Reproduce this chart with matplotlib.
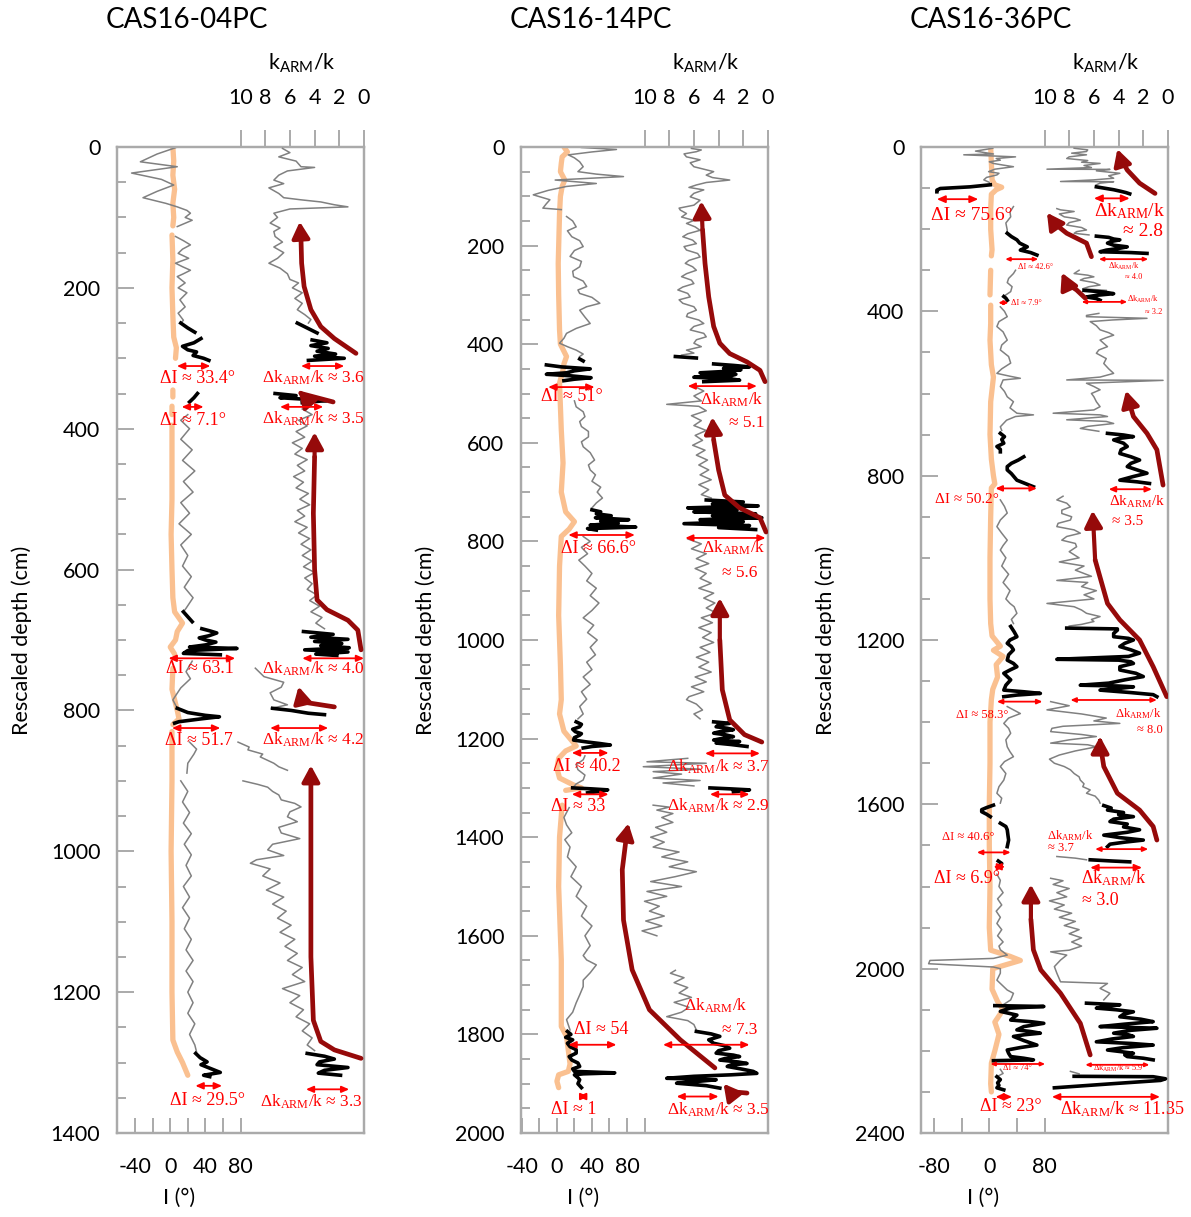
import numpy as np
import matplotlib
matplotlib.use('Agg')
import matplotlib.pyplot as plt
from matplotlib.ticker import MultipleLocator, FixedLocator

plt.rcParams['font.family'] = ['Lato', 'DejaVu Sans']
plt.rcParams['mathtext.fontset'] = 'custom'
plt.rcParams['mathtext.rm'] = 'Liberation Serif'
plt.rcParams['mathtext.sf'] = 'Lato'
plt.rcParams['mathtext.it'] = 'Liberation Serif:italic'

# ---------------------------------------------------------------- data
TITLES = ['CAS16-04PC', 'CAS16-14PC', 'CAS16-36PC']
DEPTH_MAX = [1400, 2000, 2400]
K_TICKS = [10, 8, 6, 4, 2, 0]
I_TICKS = [[-40, -20, 0, 20, 40, 60, 80],
           [-40, -20, 0, 20, 40, 60, 80, 100],
           [-80, -40, 0, 40, 80]]
I_TICKLABELS = [['-40', '', '0', '', '40', '', '80'],
                ['-40', '', '0', '', '40', '', '80', ''],
                ['-80', '', '0', '', '80']]

# ---- panel 1 : (depth cm, inclination deg)
P1_I_GREY = [(1,6),(10,-15),(21,-34),(28,8),(37,-44),(46,-10),(54,4),(63,-15),(72,-31),(80,-5),(85,8),(90,19),(94,23),(100,17),(104,25),(113,8),
             None,(127,6),(133,15),(139,23),(145,14),(151,9),(158,21),(165,6),(170,14),(175,23),(180,15),(184,8),(193,17),(200,9),(207,19),(217,11),(227,17),(236,9),(246,15),(250,12),
             None,(380,20),(388,12),(400,22),(415,12),(430,25),(445,14),(460,28),(475,15),(490,26),(505,12),(520,22),(535,10),(550,24),(565,12),(580,20),(595,14),(610,24),(625,16),(640,26),(655,18),(660,15),
             None,(730,25),(745,18),(755,23),(768,12),(785,3),(797,8),
             None,(845,22),(855,30),(862,27),(875,20),(889,19),
             None,(900,12),(915,20),(930,14),(945,22),(960,15),(975,24),(990,16),(1005,24),(1020,18),(1035,24),(1050,15),(1065,22),(1080,14),(1095,22),(1110,16),(1125,24),(1140,18),(1155,26),(1170,18),(1185,26),(1200,20),(1215,26),(1230,20),(1245,28),(1260,22),(1275,28),(1285,30)]
P1_I_BLACK = [(250,12),(257,20),(263,28),None,(272,35),(278,27),(283,14),(288,20),(291,30),(296,26),(300,38),(303,44),
              None,(350,31),(356,27),(362,22),
              None,(660,15),(667,20),(674,25),None,(684,36),(687,45),(690,53),(694,44),(697,33),(700,40),(703,52),(707,40),(710,22),(712,76),(715,20),(719,15),(721,57),
              None,(797,8),(803,20),(807,40),(809,56),(812,35),(816,10),(818,5),
              None,(1287,29),(1293,34),(1299,42),(1303,35),(1308,45),(1314,57),(1318,38),(1320,45)]
P1_I_PEACH = [(0,3),(20,4),(40,3),(60,5),(80,3),(100,4),(112,3),None,(125,2),(160,3),(200,2),(240,3),(270,4),(285,7),(300,6),None,
              (345,3),(355,3),None,(368,2),(380,2),None,(395,2),(450,2),(500,2),(550,1),(600,2),(640,3),(660,5),(676,14),(688,8),(700,6),(710,0),(720,5),None,
              (740,3),(770,2),(800,8),(812,10),(820,3),None,(830,2),(900,2),(1000,1),(1100,2),(1200,2),(1268,3),(1285,8),(1300,14),(1318,20)]
P1_K_GREY = [(2,6.6),(8,6.0),(14,6.9),(20,5.5),(28,5.1),(29,4.0),(34,6.2),(40,6.9),(47,7.3),(52,6.5),(58,7.7),(66,6.9),(72,6.5),(75,5.1),(78,3.5),(82,2.4),(85,1.3),(88,6.0),(94,7.3),(100,7.0),(108,7.6),(115,6.8),(120,7.3),(127,7.2),(135,6.6),(142,7.3),(150,6.5),(158,7.0),(165,7.7),(172,6.8),(180,6.2),(188,6.0),(193,5.3),(200,5.8),(207,5.0),(215,5.6),(222,5.0),(231,5.4),(238,4.8),(245,4.3),(250,4.5),
             None,(372,5.0),(380,4.2),(388,5.3),(396,4.6),(404,5.5),(412,4.8),(420,5.8),(428,5.0),(436,5.6),(444,4.6),(452,5.4),(460,4.8),(468,5.7),(476,4.9),(484,5.5),(492,4.5),(500,5.2),(508,4.4),(516,5.4),(524,4.8),(532,5.6),(540,4.6),(548,5.3),(556,4.4),(564,5.1),(572,4.3),(580,5.0),(588,4.2),(596,4.9),(604,4.0),(612,4.8),(620,4.2),(628,4.6),(636,3.8),(644,4.4),(652,3.6),(660,4.3),(668,3.4),(676,3.9),(684,3.2),
             None,(740,8.8),(752,8.1),(760,6.5),(767,6.7),(775,7.6),(785,7.3),(792,6.2),(797,7.5),
             None,(845,10.2),(852,9.3),(856,9.4),(862,8.2),(866,8.4),(875,7.3),(880,6.9),(885,6.2),None,(900,9.8),(905,8.6),(909,7.8),(915,7.4),(920,6.9),(927,6.7),(932,5.6),(937,5.1),(944,6.0),(951,6.2),(958,5.4),(966,6.9),(974,6.7),(982,5.2),(990,7.4),(998,7.8),(1006,6.5),(1012,8.7),(1017,9.2),(1025,7.6),(1035,8.2),(1045,6.8),(1055,7.9),(1065,6.5),(1075,7.4),(1085,6.3),(1095,7.0),(1105,5.9),(1115,6.8),(1125,5.6),(1135,6.4),(1145,5.4),(1155,6.2),(1165,5.0),(1175,5.8),(1185,4.8),(1195,6.6),(1205,5.2),(1215,6.0),(1225,4.9),(1235,5.5),(1245,4.4),(1255,5.0),(1265,4.2),(1275,4.6),(1283,4.0)]
P1_K_BLACK = [(250,5.4),(257,4.6),(264,3.8),None,(274,4.2),(278,3.0),(282,4.3),(286,2.9),(290,3.8),(294,2.3),(297,4.0),(300,1.6),(303,4.5),
              None,(350,7.2),(353,5.5),(356,6.8),(360,3.0),(363,5.0),
              None,(688,4.9),(692,2.5),(696,4.3),(699,1.3),(702,4.0),(705,1.8),(708,3.5),(711,1.2),(714,4.8),(717,1.3),(720,3.9),(722,2.2),
              None,(797,7.4),(800,5.9),(804,4.5),(806,3.2),
              None,(1287,4.6),(1291,3.2),(1295,2.4),(1299,3.6),(1303,3.8),(1307,1.3),(1311,3.2),(1315,3.7),(1318,1.9)]
P1_TRENDS = [[(293,0.65),(272,2.4),(255,3.5),(231,4.3),(198,4.85),(165,5.05),(132,5.1),(106,5.2)],
             [(362,2.5),(350,5.1),(346,5.3)],
             [(714,0.24),(686,0.5),(672,1.3),(657,3.0),(643,3.8),(600,4.0),(520,4.1),(440,4.0),(405,4.0)],
             [(795,2.4),(789,4.6),(781,5.1),(766,5.3)],
             [(1294,0.24),(1282,2.4),(1270,3.5),(1240,4.1),(1150,4.3),(1000,4.3),(900,4.3),(878,4.3)]]
# (depth, left, right, text_x, text_depth, text, fontsize)
P1_DI = [(311,7.6,45.7,31,328,'ΔI ≈ 33.4°',13),(369,13,38,26,388,'ΔI ≈ 7.1°',13),(726,-2,74,34,741,'ΔI ≈ 63.1',13),
         (825,2,57,33,842,'ΔI ≈ 51.7',13),(1333,28.6,59,43,1354,'ΔI ≈ 29.5°',13)]
P1_DK = [(311,5.1,1.6,4.1,328,'Δk$_{\\mathrm{ARM}}$/k ≈ 3.6',12.5),(369,6.8,3.3,4.1,386,'Δk$_{\\mathrm{ARM}}$/k ≈ 3.5',12.5),
         (726,5.0,0.0,4.1,741,'Δk$_{\\mathrm{ARM}}$/k ≈ 4.0',12.5),(825,7.6,2.9,4.1,842,'Δk$_{\\mathrm{ARM}}$/k ≈ 4.2',12.5),
         (1338,4.7,1.2,4.3,1356,'Δk$_{\\mathrm{ARM}}$/k ≈ 3.3',12.5)]

# ---- panel 2
P2_I_GREY = [(1,28),(5,68),(10,40),(16,13),(22,20),(30,26),(40,30),(50,24),(55,45),(60,76),(64,30),(67,-2),(74,45),(80,11),(88,-10),(97,-27),(107,-8),(115,-12),(124,-16),(127,5),
             None,(141,11),(150,18),(162,22),(170,12),(182,17),(190,26),(202,30),(210,20),(222,15),(232,28),(243,26),(252,18),(263,19),(272,30),(283,34),(290,24),(297,26),(305,40),(317,49),(324,34),(331,26),(345,32),(358,38),(368,22),(378,11),(388,8),(398,3),(405,12),(412,22),(420,30),(425,26),
             None,(515,20),(527,22),(537,30),(547,32),(557,26),(567,28),(577,36),(588,36),(598,28),(608,30),(620,38),(635,43),(645,36),(655,38),(665,44),(678,40),(690,50),(700,46),(712,52),(722,45),(732,40),
             None,(790,30),(800,38),(812,28),(825,35),(838,25),(850,32),(865,40),(880,34),(895,45),(910,38),(925,48),(940,40),(955,30),(970,42),(985,35),(1000,46),(1015,38),(1030,44),(1045,34),(1060,40),(1075,30),(1090,38),(1105,28),(1120,34),(1135,26),(1150,30),(1160,24),
             None,(1235,32),(1243,30),(1253,22),(1263,24),(1274,32),(1284,30),(1292,22),(1300,18),
             None,(1340,14),(1360,8),(1375,11),(1391,17),(1405,9),(1420,15),(1440,12),(1460,22),(1480,16),(1500,28),(1520,22),(1540,34),(1560,28),(1580,40),(1600,32),(1620,38),(1640,30),(1649,34),(1659,45),(1675,38),(1690,30),(1703,30),(1720,26),(1736,22),(1755,18),(1770,11),(1791,15)]
P2_I_BLACK = [(430,26),(434,30),None,(442,-12),(446,5),(450,38),(454,20),(458,11),(461,-12),(464,15),(468,39),(471,20),(474,8),
              None,(736,40),(740,50),(744,45),(748,62),(752,44),(756,82),(759,50),(763,70),(767,38),(771,90),(774,35),(777,45),
              None,(1166,22),(1171,28),(1176,26),(1181,18),(1186,21),(1190,28),(1193,26),(1198,20),(1203,19),(1207,35),(1210,49),(1213,61),(1216,40),(1219,30),
              None,(1300,18),(1302,40),(1304,58),(1307,50),(1310,35),
              None,(1794,12),(1800,16),(1806,10),(1811,18),(1818,12),(1825,15),(1831,22),(1838,22),(1845,14),(1852,17),(1858,24),(1865,26),(1870,18),(1875,20),(1878,66),(1880,30),(1882,20),(1888,24),(1892,26),(1900,24),(1908,28)]
P2_I_PEACH = [(0,8),(10,12),(20,6),(33,5),(50,4),(67,9),(80,6),(100,4),(135,3),(236,1.5),(300,2),(371,3),(400,4),(425,11),(440,8),(452,7),(479,3),(574,5),(641,7),(700,5),(740,10),(760,20),(775,14),(790,5),(850,3),(950,2),(1050,4),(1121,5),(1150,3),(1185,8),(1200,15),(1215,22),(1225,10),(1240,2),(1260,0),(1280,3),(1295,20),(1300,28),(1305,10),
              None,(1335,6),(1400,3),(1500,2),(1600,4),(1649,5),(1784,5),(1804,11),(1860,15),(1875,13),(1882,2),(1895,0),(1908,2)]
P2_K_GREY = [(3,6.2),(6,5.4),(9.5,5.8),(14,6.8),(20,6.6),(26,5.5),(32,6.3),(40,6.0),(45,5.2),(50,4.4),(57,5.0),(62,4.5),(67,3.1),(72,5.0),(77,5.8),(82,6.4),(87,5.2),(94,6.0),(101,6.3),(108,5.5),(118,6.0),(124,7.2),(128,7.1),(135,6.6),(142,7.0),(149,6.0),(155,6.6),(162,5.9),(169,5.5),(176,6.5),(182,6.9),(189,6.1),(196,5.8),(202,6.8),(209,6.6),(216,5.7),(223,5.5),(230,6.4),(236,6.7),(243,6.1),(250,5.8),(257,6.6),(263,7.0),(270,6.2),(277,6.0),(284,6.9),(290,7.3),(297,6.5),(304,6.3),(310,7.2),(317,6.9),(324,6.0),(331,5.8),(338,6.5),(344,6.6),(351,5.6),(358,5.2),(364,6.0),(371,6.3),(378,5.2),(385,5.0),(391,5.8),(398,6.0),(405,5.4),(412,6.6),(418,6.0),(422,7.0),
             None,(485,6.0),(495,5.2),(505,6.0),(515,5.4),(522,8.2),(526,5.6),(535,5.0),(545,6.2),(555,5.4),(565,6.0),(575,5.0),(585,5.9),(595,5.3),(605,6.1),(615,5.1),(625,5.8),(635,4.9),(645,5.6),(655,4.8),(665,5.5),(675,4.6),(685,5.6),(695,4.8),(705,5.4),(712,4.6),
             None,(795,6.5),(805,5.4),(815,6.2),(825,5.0),(835,5.8),(845,4.8),(855,5.9),(865,5.0),(875,5.5),(885,4.6),(895,5.6),(905,4.4),(915,5.2),(925,4.3),(935,5.0),(945,4.2),(955,5.4),(965,4.5),(975,5.6),(985,4.6),(995,5.3),(1005,4.4),(1015,5.5),(1025,4.7),(1035,5.8),(1045,4.8),(1055,5.6),(1065,4.6),(1075,5.9),(1085,5.0),(1095,6.2),(1105,5.2),(1115,6.4),(1121,6.6),(1130,5.8),(1142,5.3),(1150,6.0),(1160,5.5),
             None,(1240,6.5),(1247,9.8),(1250,5.0),(1257,10.1),(1262,5.5),(1267,9.3),(1272,7.0),(1280,9.3),(1285,5.5),(1290,8.5),(1296,6.0),
             None,(1335,9.3),(1339,8.0),(1345,9.0),(1352,7.7),(1360,8.6),(1370,7.7),(1380,9.1),(1390,8.2),(1400,9.5),(1410,8.4),(1420,9.3),(1430,7.2),(1440,8.6),(1450,6.5),(1460,8.0),(1470,5.8),(1480,7.5),(1490,9.5),(1500,7.0),(1510,9.8),(1520,8.2),(1530,10.0),(1540,8.8),(1550,9.6),(1560,8.4),(1570,9.9),(1580,8.6),(1590,10.2),(1600,9.0),
             None,(1670,7.5),(1676,7.9),(1685,6.8),(1695,7.6),(1705,6.5),(1716,7.2),(1725,6.2),(1735,7.6),(1745,6.4),(1755,7.0),(1764,8.2),(1772,6.5),(1780,6.0),(1791,5.8)]
P2_K_BLACK = [(425,7.5),(428,5.8),None,(440,4.4),(443,2.8),(446,1.5),(449,3.6),(452,2.2),(455,3.3),(458,5.5),(461,2.6),(464,3.0),(467,6.0),(470,3.1),(473,2.3),(476,5.2),
              None,(716,5.0),(720,2.0),(724,4.5),(728,0.8),(732,6.5),(736,2.5),(740,6.0),(744,1.0),(748,4.5),(752,0.5),(756,5.5),(760,2.0),(764,6.8),(768,1.5),(772,4.0),(776,1.0),
              None,(1166,4.4),(1169,3.1),(1172,4.0),(1176,4.2),(1179,3.3),(1182,2.8),(1186,3.9),(1189,4.4),(1192,3.5),(1196,2.8),(1199,3.6),(1203,4.4),(1206,2.3),(1209,4.2),(1212,3.0),(1216,1.7),
              None,(1300,4.7),(1302,3.0),(1304,1.5),(1308,2.8),
              None,(1794,5.8),(1799,4.6),(1804,3.9),(1811,4.8),(1818,4.4),(1823,3.5),(1828,3.1),(1833,4.0),(1838,4.2),(1842,2.8),(1845,2.3),(1849,3.5),(1852,3.9),(1856,2.4),(1859,1.7),(1862,3.0),(1865,3.3),(1870,2.2),(1875,1.2),(1879,0.9),(1882,3.0),(1885,6.0),(1889,8.2),(1892,4.2),(1896,6.0),(1899,7.4),(1904,5.0),(1909,3.9)]
P2_TRENDS = [[(476,0.24),(453,0.65),(436,1.7),(419,3.1),(398,3.9),(364,4.4),(304,4.8),(236,5.1),(168,5.3),(110,5.4)],
             [(781,0.16),(752,0.65),(732,2.3),(706,3.5),(655,4.0),(594,4.4),(548,4.5)],
             [(1207,0.5),(1192,1.9),(1162,3.1),(1101,3.7),(1000,3.9),(915,3.9)],
             [(1868,4.3),(1811,7.1),(1750,9.6),(1669,11.0),(1568,11.7),(1466,11.8),(1385,11.4),(1372,11.3)],
             [(1919,1.7),(1916,3.1),(1900,3.6)]]
P2_DI = [(487,-10,43,17,506,'ΔI ≈ 51°',13),(787,13,89,47,815,'ΔI ≈ 66.6°',13),(1229,17,59,34,1257,'ΔI ≈ 40.2',13),
         (1313,17,59,24,1337,'ΔI ≈ 33',13),(1821,13,68,51,1791,'ΔI ≈ 54',13),(1926,24,36,19,1953,'ΔI ≈ 1',13)]
P2_DK = [(485,6.5,0.9,2.9,513,'Δk$_{\\mathrm{ARM}}$/k',12.5),(None,0,0,1.7,560,'≈ 5.1',12.5),
         (793,6.7,0.2,2.8,813,'Δk$_{\\mathrm{ARM}}$/k',12.5),(None,0,0,2.3,864,'≈ 5.6',12.5),
         (1230,5.1,0.65,4.0,1257,'Δk$_{\\mathrm{ARM}}$/k ≈ 3.7',12.5),(1313,4.7,1.5,4.0,1337,'Δk$_{\\mathrm{ARM}}$/k ≈ 2.9',12.5),
         (1821,8.5,1.5,4.2,1743,'Δk$_{\\mathrm{ARM}}$/k',12.5),(None,0,0,2.3,1791,'≈ 7.3',12.5),
         (1926,7.4,4.0,4.0,1953,'Δk$_{\\mathrm{ARM}}$/k ≈ 3.5',12.5)]

# ---- panel 3
P3_I_GREY = [(3,5),(10,-20),(17,6),(19,-37),(22,10),(24,38),(28,10),(32,16),(36,0),(40,6),(44,20),(48,35),(54,8),(60,-1),(64,14),(68,11),(74,-4),(80,-8),(86,0),(92,1.5),
             None,(145,35),(158,30),(170,31),(185,24),(202,26),(210,26),
             None,(300,38),(308,35),(320,28),(330,26),(340,33),(352,31),(360,24),(364,21),
             None,(389,16),(400,22),(413,26),(425,14),(437,11),(450,20),(470,26),(482,18),(494,16),(510,28),(526,31),(540,18),(551,11),(558,30),(563,45),(567,20),(583,16),(595,22),(608,26),(620,35),(635,30),(648,40),(652,64),(656,38),(665,25),(681,16),(690,18),
             None,(859,16),(875,22),(891,26),(908,16),(924,11),(940,18),(957,26),(970,20),(981,16),(1000,24),(1020,18),(1040,28),(1060,20),(1080,30),(1100,24),(1111,30),(1119,36),(1135,40),(1150,32),(1160,35),
             None,(1362,26),(1370,35),(1379,45),(1390,28),(1403,21),(1415,28),(1427,31),(1443,24),(1460,26),(1472,30),(1484,35),(1496,22),(1508,16),(1525,24),(1541,21),(1557,14),(1573,11),(1585,18),(1597,16),
             None,(1770,11),(1785,16),(1800,14),(1815,20),(1830,12),(1845,18),(1860,10),(1875,16),(1890,11),(1905,18),(1920,12),(1935,20),(1945,14),(1954,16),(1967,26),(1975,6),(1980,-86),(1988,-88),(1996,6),(2000,16),(2011,16),(2028,11),(2044,21),(2052,26),(2060,35),(2076,31),(2088,20),(2090,8),
             None,(2245,16),(2255,20),(2263,11)]
P3_I_BLACK = [(92,1.5),(97,-28),(101,-71),(105,-76),(109,-76),
              None,(210,26),(218,32),(226,40),(234,44),(243,55),(247,50),(251,45),(257,60),(263,69),
              None,(364,21),(368,24),(373,26),
              None,(697,16),(705,22),(712,18),(721,21),(729,11),(736,16),(742,16),None,(754,50),(762,42),(770,32),(778,26),(786,26),(795,32),(803,36),(811,40),(819,52),(827,64),
              None,(1167,31),(1180,36),(1192,40),(1200,30),(1208,26),(1216,32),(1224,35),(1236,28),(1249,26),(1257,35),(1265,40),(1273,30),(1281,21),(1289,26),(1297,31),(1310,24),(1322,21),(1326,50),(1330,74),(1334,40),(1338,21),
              None,(1602,6),(1608,-4),(1613,-11),(1618,-11),(1624,-4),(1630,1.5),None,(1646,16),(1654,24),(1662,26),(1675,27),(1687,28),(1695,27),(1703,26),
              None,(1738,13),(1744,18),(1750,16),
              None,(2090,8),(2092,79),(2096,30),(2104,16),(2113,40),(2119,35),(2125,31),(2129,60),(2133,79),(2141,50),(2149,40),(2153,60),(2157,74),(2161,50),(2165,35),(2175,50),(2186,69),(2192,45),(2198,26),(2206,28),(2214,31),(2218,50),(2222,64),(2224,6),
              None,(2263,11),(2270,16),(2278,12),(2284,14),(2290,11),(2295,21)]
P3_I_PEACH = [(0,2),(40,3),(80,4),(92,8),(98,18),(104,10),(115,3),(150,2),(200,2),(250,4),(265,3),None,(300,2),(360,1),None,(385,2),(430,2),(470,1),(530,3),(560,6),(620,2),(700,1),(760,3),(800,6),(820,8),(830,3),(900,2),(1000,1),(1100,1),(1160,2),(1190,4),(1215,16),(1225,6),(1240,20),(1260,10),(1290,12),(1320,5),(1345,3),(1400,1),(1500,1),(1600,0),(1700,0),(1800,1),(1900,0),(1955,2),(1970,30),(1980,45),(1990,25),(2000,5),(2050,4),(2080,12),(2100,20),(2130,8),(2160,14),(2200,8),(2230,3),(2280,2),(2300,3)]
P3_K_GREY = [(3,7.6),(7,6.5),(11,6.6),(15,7.8),(19,6.6),(24,8.0),(28,8.2),(33,6.5),(37,7.0),(40,5.5),(45,6.8),(50,6.2),(54,9.8),(54.5,4.7),(58,5.8),(64,3.9),(70,4.8),(76,4.4),(80,6.0),(84,8.7),(84.5,4.4),(88,5.5),(92,5.8),
             None,(150,9.0),(153,8.7),(157,7.6),(163,8.8),(170,8.4),(174,7.5),(178,7.1),(184,8.0),(190,8.2),(196,7.0),(202,6.6),(206,7.4),(210,7.6),(214,6.4),
             None,(300,7.2),(308,7.6),(312,6.5),(316,6.0),(320,6.8),(324,7.1),(330,6.0),(336,5.5),(340,6.4),(345,6.9),(349,5.0),
             None,(405,5.6),(410,6.6),(413,6.6),(417,1.7),(421,4.5),(425,6.3),(435,5.8),(445,5.5),(452,4.8),(458,4.4),(464,5.0),(470,5.5),(478,5.2),(486,4.9),(494,5.6),(502,5.8),(515,5.0),(527,5.2),(540,4.8),(551,4.4),(560,5.5),(567,8.2),(568,0.4),(575,6.6),(583,6.0),(591,5.5),(600,6.2),(608,6.0),(620,5.8),(632,5.5),(640,6.0),(648,9.3),(652,5.5),(656,4.9),(660,6.5),(664,8.2),(668,5.0),(673,4.4),(680,6.5),(685,7.1),(692,5.6),
             None,(850,8.5),(859,9.0),(867,8.2),(876,7.9),(884,8.6),(892,8.6),(900,7.8),(908,7.9),(916,8.9),(924,9.0),(932,7.6),(940,7.1),(948,8.2),(957,8.6),(965,7.5),(973,7.4),(985,8.0),(1000,7.2),(1010,8.8),(1020,6.8),(1030,7.5),(1045,6.2),(1055,9.0),(1060,6.5),(1070,7.0),(1080,5.8),(1090,6.8),(1100,6.0),(1111,9.8),(1119,7.6),(1127,7.0),(1135,6.6),(1143,5.5),(1150,6.2),(1155,6.0),(1162,7.0),(1166,8.0),
             None,(1350,9.5),(1360,8.0),(1370,9.8),(1380,7.0),(1390,5.0),(1397,6.0),(1403,3.9),(1410,8.5),(1415,9.4),(1423,9.5),(1430,7.0),(1435,5.8),(1443,8.0),(1451,9.5),(1455,6.5),(1460,5.8),(1470,7.5),(1480,8.8),(1490,9.6),(1500,9.2),(1508,8.4),(1516,7.9),(1525,7.6),(1533,7.2),(1541,7.1),(1550,6.8),(1557,6.9),(1565,6.3),(1573,6.6),(1580,5.9),(1590,5.6),(1597,5.5),
             None,(1727,9.0),(1731,7.5),(1735,6.6),
             None,(1780,9.5),(1786,8.5),(1795,9.3),(1805,8.0),(1815,9.0),(1825,8.2),(1835,9.6),(1845,8.4),(1855,9.2),(1865,7.8),(1875,8.8),(1885,7.5),(1895,8.4),(1905,7.2),(1915,8.0),(1925,7.0),(1935,7.8),(1945,7.0),(1955,8.0),(1959,9.5),(1967,8.2),(1979,8.7),(1995,9.2),(2011,9.0),(2032,8.7),(2036,4.9),(2048,5.5),(2060,4.7),(2076,5.2),
             None,(2250,7.9),(2256,7.2)]
P3_K_BLACK = [(97,5.8),(100,5.2),(104,4.4),(108,3.8),(111,3.4),(114,3.1),
              None,(217,5.8),(220,4.8),(224,4.4),(226,3.9),(230,4.6),(234,4.9),(239,4.4),(243,3.3),(247,4.0),(251,5.0),(255,5.5),(257,3.0),(259,1.7),
              None,(349,6.8),(353,5.2),(357,4.4),(361,5.8),(365,6.6),(369,5.8),(373,5.5),
              None,(697,4.9),(701,3.6),(705,2.8),(709,3.9),(713,4.4),(721,3.6),(729,3.3),(737,3.8),(746,3.9),(754,3.0),(762,2.3),(770,3.0),(778,3.3),(786,2.5),(794,1.7),(802,2.8),(811,3.9),(815,2.5),(819,1.5),
              None,(1171,8.2),(1173,4.1),(1176,4.1),(1184,4.4),(1192,4.4),(1196,3.2),(1200,2.8),(1208,3.5),(1216,3.9),(1224,3.0),(1232,2.3),(1240,3.2),(1247,9.0),(1249,4.0),(1253,3.0),(1257,2.8),(1265,3.9),(1273,3.9),(1281,2.6),(1289,2.0),(1297,3.5),(1305,4.8),(1310,7.1),(1312,4.0),(1314,2.8),(1318,4.0),(1322,5.5),(1328,3.0),(1333,1.2),(1338,0.9),
              None,(1603,5.2),(1609,4.6),(1614,4.9),(1620,3.6),(1625,4.0),(1630,2.8),(1636,4.4),(1642,4.7),(1648,3.3),(1655,3.6),(1662,2.3),(1668,3.3),(1675,5.2),(1681,3.9),(1687,2.0),(1692,3.5),(1697,4.7),(1703,4.9),
              None,(1735,6.3),(1738,4.5),(1740,3.1),
              None,(2084,6.6),(2088,3.9),(2092,5.0),(2096,5.8),(2100,4.2),(2105,2.8),(2111,3.6),(2117,3.9),(2123,2.2),(2129,1.2),(2135,3.5),(2141,5.5),(2145,0.9),(2150,3.0),(2157,4.4),(2161,3.2),(2165,2.8),(2171,4.5),(2178,5.8),(2182,3.0),(2186,1.2),(2192,3.6),(2198,4.9),(2202,3.8),(2206,2.8),(2210,3.5),(2214,3.3),(2218,2.0),(2222,1.2),
              None,(2262,7.6),(2263,1.2),(2268,0.2),(2272,0.6),(2280,4.5),(2290,9.2)]
P3_TRENDS = [[(113,1.05),(88,2.3),(56,3.3),(24,3.9),(5,4.1)],
             [(267,6.2),(234,6.6),(210,8.2),(186,9.2),(160,9.8)],
             [(368,6.7),(348,7.4),(332,8.2),(306,8.6)],
             [(823,0.4),(737,0.9),(697,1.7),(656,2.8),(616,3.2),(593,3.4)],
             [(1338,0.1),(1265,1.2),(1200,2.3),(1151,3.9),(1111,4.9),(1005,5.9),(885,6.1)],
             [(1687,0.9),(1654,1.2),(1614,2.3),(1573,4.1),(1508,5.2),(1451,5.5),(1435,5.5)],
             [(2210,6.3),(2133,7.1),(2060,8.7),(2003,10.3),(1954,10.9),(1880,11.1),(1795,11.1)]]
P3_DI = [(127,-76,-16,-25,166,'ΔI ≈ 75.6°',14),(273,23,71,67,291,'ΔI ≈ 42.6°',6),(379,13,28,32,379,'ΔI ≈ 7.9°',6),
         (831,9,69,-32,859,'ΔI ≈ 50.2°',11),(1350,11,77,-11,1383,'ΔI ≈ 58.3°',9),(1717,-18,31,-30,1679,'ΔI ≈ 40.6°',9),
         (1752,6,23,-32,1780,'ΔI ≈ 6.9°',13),(2232,1.5,81,40,2243,'ΔI ≈ 74°',6),(2312,9,33,31,2336,'ΔI ≈ 23°',13)]
P3_DK = [(125,6.0,3.1,3.1,157,'Δk$_{\\mathrm{ARM}}$/k',14),(None,0,0,2.0,206,'≈ 2.8',14),
         (273,5.6,1.6,3.6,291,'Δk$_{\\mathrm{ARM}}$/k',6),(None,0,0,2.8,316,'≈ 4.0',6),
         (377,7.0,3.3,2.0,372,'Δk$_{\\mathrm{ARM}}$/k',6),(None,0,0,1.2,401,'≈ 3.2',6),
         (833,4.8,1.3,2.5,863,'Δk$_{\\mathrm{ARM}}$/k',11),(None,0,0,3.3,912,'≈ 3.5',11),
         (1346,7.9,0.9,2.4,1379,'Δk$_{\\mathrm{ARM}}$/k',9),(None,0,0,1.5,1419,'≈ 8.0',9),
         (1709,5.9,1.6,7.9,1675,'Δk$_{\\mathrm{ARM}}$/k',9),(None,0,0,8.7,1707,'≈ 3.7',9),
         (1754,6.3,2.1,4.4,1780,'Δk$_{\\mathrm{ARM}}$/k',13),(None,0,0,5.5,1833,'≈ 3.0',13),
         (2234,6.7,1.5,4.0,2243,'Δk$_{\\mathrm{ARM}}$/k ≈ 5.9',6),
         (2312,9.4,0.65,3.7,2342,'Δk$_{\\mathrm{ARM}}$/k ≈ 11.35',13)]

# ---------------------------------------------------------------- styles
W, H = 1191, 1217
GREY = '#808080'
PEACH = '#FAC090'
DARKRED = '#960A0A'
SPINE = '#AAAAAA'
RED = '#FF0000'
AX_LEFT = [117, 521, 921]
AX_WIDTH = 247
AX_TOP, AX_BOTTOM = 147, 1133
I_LIM = [(-60.6, 220.6), (-41, 241), (-99, 259)]
MAJ = [200, 200, 400]
MIN = [50, 50, 100]
TITLE_X = [187, 591, 991]
LEFT_ALIGNED = ['ΔI ≈ 7.9°']


def split(pts):
    d = np.array([p[0] if p else np.nan for p in pts], float)
    v = np.array([p[1] if p else np.nan for p in pts], float)
    return d, v


def fx(x):
    return x / W


def fy(y):
    return 1 - y / H


fig = plt.figure(figsize=(W / 100, H / 100), dpi=100)

panels = [
    (P1_I_GREY, P1_I_BLACK, P1_I_PEACH, P1_K_GREY, P1_K_BLACK, P1_TRENDS, P1_DI, P1_DK),
    (P2_I_GREY, P2_I_BLACK, P2_I_PEACH, P2_K_GREY, P2_K_BLACK, P2_TRENDS, P2_DI, P2_DK),
    (P3_I_GREY, P3_I_BLACK, P3_I_PEACH, P3_K_GREY, P3_K_BLACK, P3_TRENDS, P3_DI, P3_DK),
]

for p, (ig, ib, ipch, kg, kb, trends, dis, dks) in enumerate(panels):
    left = AX_LEFT[p]
    ax = fig.add_axes([fx(left), fy(AX_BOTTOM), AX_WIDTH / W, (AX_BOTTOM - AX_TOP) / H])
    ax.set_xlim(*I_LIM[p])
    ax.set_ylim(DEPTH_MAX[p], 0)
    ax2 = ax.twiny()
    ax2.set_xlim(20, 0)
    ax2.set_ylim(DEPTH_MAX[p], 0)

    for a in (ax, ax2):
        for s in a.spines.values():
            s.set_color(SPINE)
            s.set_linewidth(1.6)

    # curves
    d, v = split(ipch)
    ax.plot(v, d, color=PEACH, lw=3.8, solid_capstyle='round', zorder=2)
    d, v = split(ig)
    ax.plot(v, d, color=GREY, lw=1.1, zorder=3)
    d, v = split(ib)
    ax.plot(v, d, color='black', lw=2.6, zorder=4)
    d, v = split(kg)
    ax2.plot(v, d, color=GREY, lw=1.1, zorder=3)
    d, v = split(kb)
    ax2.plot(v, d, color='black', lw=2.6, zorder=4)

    # trend arrows
    for tr in trends:
        d, v = split(tr)
        ax2.plot(v[:-1], d[:-1], color=DARKRED, lw=3.4, solid_capstyle='round', zorder=5)
        ax2.annotate('', xy=(v[-1], d[-1]), xytext=(v[-2], d[-2]),
                     arrowprops=dict(arrowstyle='-|>,head_length=0.7,head_width=0.38', color=DARKRED, lw=3.0,
                                     mutation_scale=14, shrinkA=0, shrinkB=0), zorder=5)

    # delta annotations
    for (dd, x0, x1, tx, td, txt, fs) in dis:
        if dd is not None:
            ax.annotate('', xy=(x0, dd), xytext=(x1, dd),
                        arrowprops=dict(arrowstyle='<|-|>,head_length=0.5,head_width=0.22', color=RED, lw=1.3,
                                        mutation_scale=max(fs * 0.7, 5), shrinkA=0, shrinkB=0), zorder=6)
        ha = 'left' if txt in LEFT_ALIGNED else 'center'
        ax.text(tx, td, txt, color=RED, fontsize=fs, family='Liberation Serif', ha=ha, va='center', zorder=7)
    for (dd, x0, x1, tx, td, txt, fs) in dks:
        if dd is not None:
            ax2.annotate('', xy=(x0, dd), xytext=(x1, dd),
                         arrowprops=dict(arrowstyle='<|-|>,head_length=0.5,head_width=0.22', color=RED, lw=1.3,
                                         mutation_scale=max(fs * 0.7, 5), shrinkA=0, shrinkB=0), zorder=6)
        ax2.text(tx, td, txt, color=RED, fontsize=fs, family='Liberation Serif', ha='center', va='center', zorder=7)

    # ticks
    ax.yaxis.set_major_locator(MultipleLocator(MAJ[p]))
    ax.yaxis.set_minor_locator(MultipleLocator(MIN[p]))
    ax.tick_params(axis='y', which='major', direction='in', length=12, width=1.4, color=SPINE,
                   labelsize=15.5, pad=12, right=False)
    ax.tick_params(axis='y', which='minor', direction='in', length=6.5, width=1.4, color=SPINE, right=False)
    ax.xaxis.set_major_locator(FixedLocator(I_TICKS[p]))
    ax.set_xticklabels(I_TICKLABELS[p])
    ax.tick_params(axis='x', which='major', direction='in', length=11, width=1.4, color=SPINE,
                   labelsize=15.5, pad=17, top=False)
    ax2.xaxis.set_major_locator(FixedLocator(K_TICKS))
    ax2.set_xticklabels([str(k) for k in K_TICKS])
    ax2.tick_params(axis='x', which='major', direction='out', length=12, width=1.4, color=SPINE,
                    labelsize=15.5, pad=16, bottom=False)
    ax2.tick_params(axis='y', left=False, right=False, labelleft=False, labelright=False)

    # labels
    fig.text(fx(TITLE_X[p]), fy(20), TITLES[p], fontsize=20, ha='center', va='center')
    fig.text(fx(left + 185), fy(62), 'k$_{\\mathsf{ARM}}$/k', fontsize=15.5, ha='center', va='center')
    fig.text(fx(left + 62), fy(1198), 'I (°)', fontsize=15.5, ha='center', va='center')
    fig.text(fx(left - 95), fy(640), 'Rescaled depth (cm)', fontsize=15.5, ha='center', va='center', rotation=90)

fig.savefig('out.png', dpi=100)
